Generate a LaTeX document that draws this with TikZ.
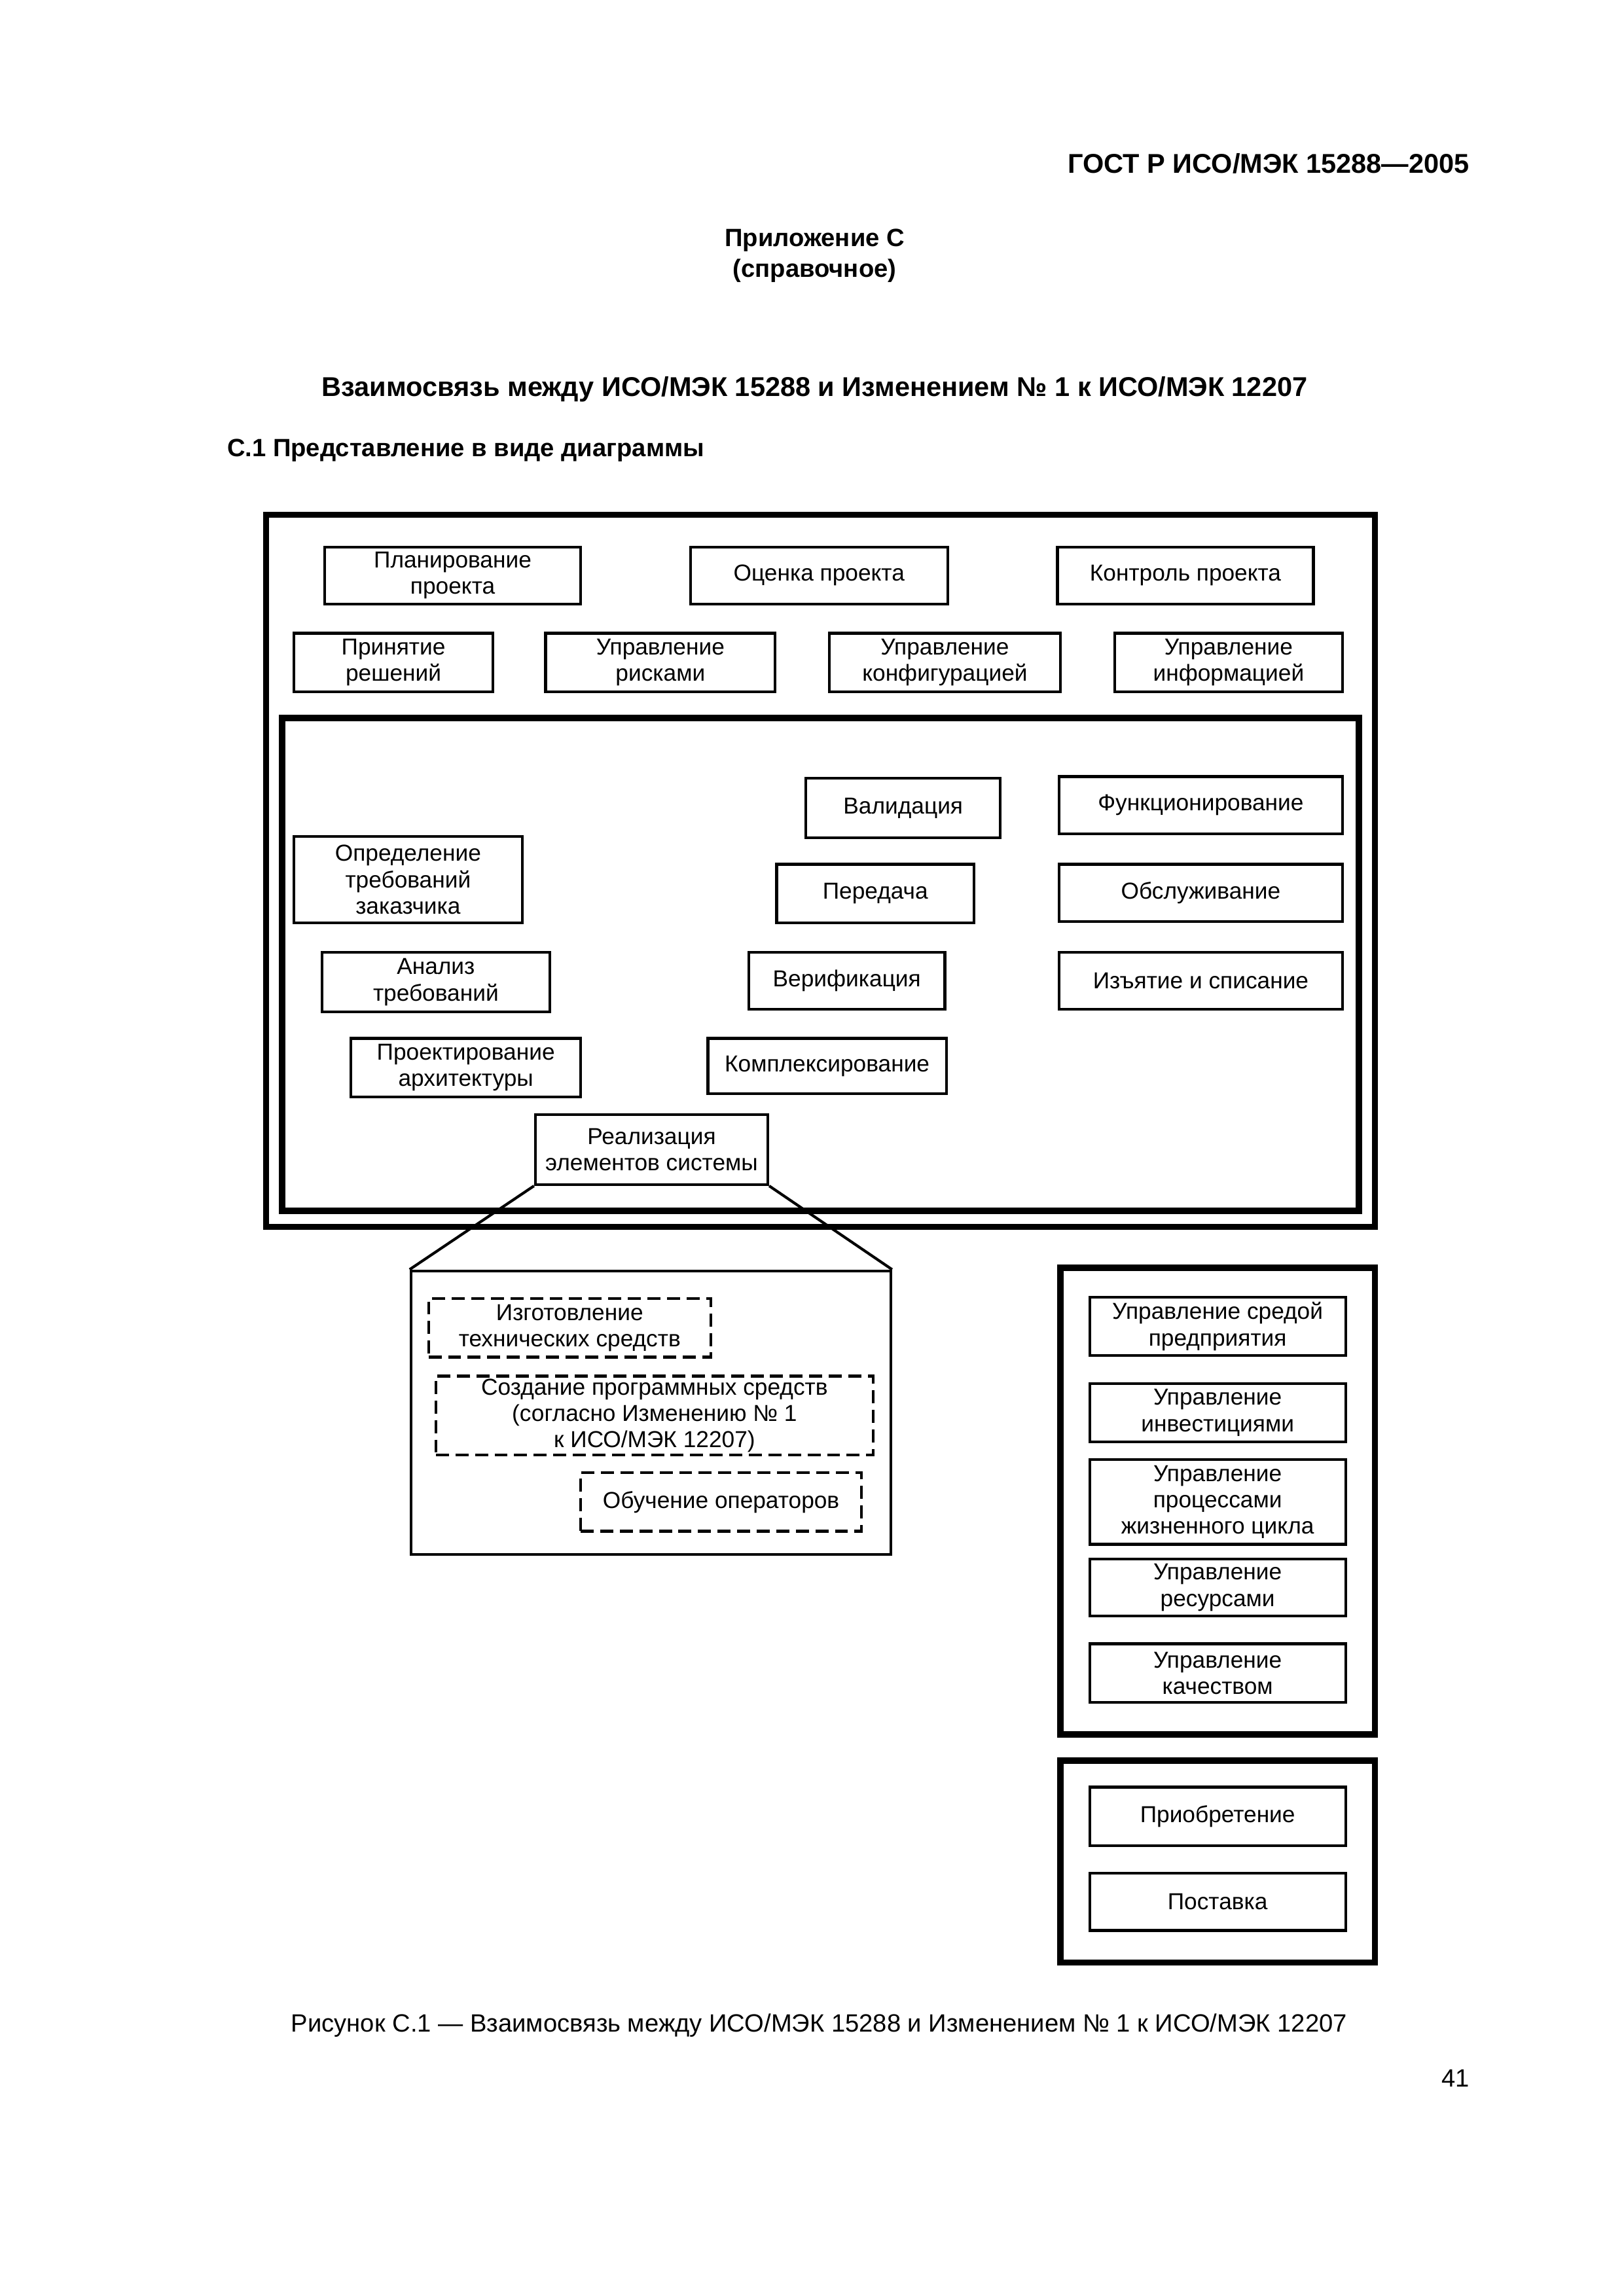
\documentclass[tikz,border=0pt]{standalone}
\usepackage{fontspec}
\setmainfont{Liberation Sans}
\usetikzlibrary{positioning}

\newcommand\pxl{0.018919cm}
\tikzset{
  proc/.style 2 args={draw,line width=1pt,align=center,inner sep=1pt,
    minimum width=#1*\pxl,minimum height=#2*\pxl,font=\fontsize{8.5}{9.7}\selectfont},
  dashproc/.style 2 args={proc={#1}{#2},dash pattern=on 4.8pt off 2.4pt},
  thickframe/.style={line width=2.3pt},
  pagetext/.style={font=\fontsize{9.2}{11.3}\selectfont\bfseries,align=center,inner sep=0pt},
}

\begin{document}
\begin{tikzpicture}[x=\pxl,y=-\pxl]
\useasboundingbox (0,0) rectangle (1110,1570);
% page head
\node[pagetext,font=\fontsize{10}{12}\selectfont\bfseries,anchor=east] (gost) at (1005,112) {ГОСТ Р ИСО/МЭК 15288—2005};
\node[pagetext] (app) at (557,175) {Приложение С\\(справочное)};
\node[pagetext,font=\fontsize{10}{12}\selectfont\bfseries] (title) at (557,266) {Взаимосвязь между ИСО/МЭК 15288 и Изменением № 1 к ИСО/МЭК 12207};
\node[pagetext,anchor=west] (sect) at (155,308) {С.1 Представление в виде диаграммы};

% project processes
\node[proc={175}{39}] (plan) at (309.5,393.5) {Планирование\\проекта};
\node[proc={176}{39}] (eval) at (560,393.5) {Оценка проекта};
\node[proc={175}{39}] (ctrl) at (810.5,393.5) {Контроль проекта};
\node[proc={136}{40}] (decis) at (269,453) {Принятие\\решений};
\node[proc={157}{40}] (risk) at (451.5,453) {Управление\\рисками};
\node[proc={158}{40}] (conf) at (646,453) {Управление\\конфигурацией};
\node[proc={156}{40}] (info) at (840,453) {Управление\\информацией};

% technical processes
\node[proc={133}{41}] (valid) at (617.5,552.5) {Валидация};
\node[proc={194}{39}] (oper) at (821,550.5) {Функционирование};
\node[proc={156}{59}] (reqdef) at (279,601.5) {Определение\\требований\\заказчика};
\node[proc={135}{40}] (trans) at (598.5,611) {Передача};
\node[proc={194}{39}] (maint) at (821,610.5) {Обслуживание};
\node[proc={156}{41}] (reqan) at (298,671.5) {Анализ\\требований};
\node[proc={134}{39}] (verif) at (579,670.5) {Верификация};
\node[proc={194}{39}] (dispo) at (821,670.5) {Изъятие и списание};
\node[proc={157}{40}] (arch) at (318.5,730) {Проектирование\\архитектуры};
\node[proc={163}{38}] (integ) at (565.5,729) {Комплексирование};
\node[proc={159}{48}] (impl) at (445.5,786) {Реализация\\элементов системы};

% implementation detail
\node[proc={328}{194}] (detail) at (445,966) {};
\draw[line width=1pt] (impl.south west) -- (detail.north west);
\draw[line width=1pt] (impl.south east) -- (detail.north east);
\node[dashproc={193}{40}] (hw) at (389.5,908) {Изготовление\\технических средств};
\node[dashproc={299}{52}] (sw) at (447.5,968) {Создание программных средств\\(согласно Изменению № 1\\к ИСО/МЭК 12207)};
\node[dashproc={192}{40}] (train) at (493,1027) {Обучение операторов};

\draw[thickframe] (182,352) rectangle (940,839);
\draw[thickframe] (193,491) rectangle (929,828);

% enterprise processes
\draw[thickframe] (725,867) rectangle (940,1186);
\node[proc={175}{40}] (env) at (832.5,907) {Управление средой\\предприятия};
\node[proc={175}{40}] (invest) at (832.5,966) {Управление\\инвестициями};
\node[proc={175}{58}] (lcm) at (832.5,1027) {Управление\\процессами\\жизненного цикла};
\node[proc={175}{39}] (res) at (832.5,1085.5) {Управление\\ресурсами};
\node[proc={175}{40}] (qual) at (832.5,1144) {Управление\\качеством};

% agreement processes
\draw[thickframe] (725,1204) rectangle (940,1342);
\node[proc={175}{40}] (acq) at (832.5,1242) {Приобретение};
\node[proc={175}{39}] (supply) at (832.5,1300.5) {Поставка};

% caption
\node[pagetext,font=\fontsize{9.2}{11.3}\selectfont] (cap) at (560,1385) {Рисунок С.1 — Взаимосвязь между ИСО/МЭК 15288 и Изменением № 1 к ИСО/МЭК 12207};
\node[pagetext,font=\fontsize{9.2}{11.3}\selectfont,anchor=east] (pnum) at (1005,1421) {41};
\end{tikzpicture}
\end{document}
